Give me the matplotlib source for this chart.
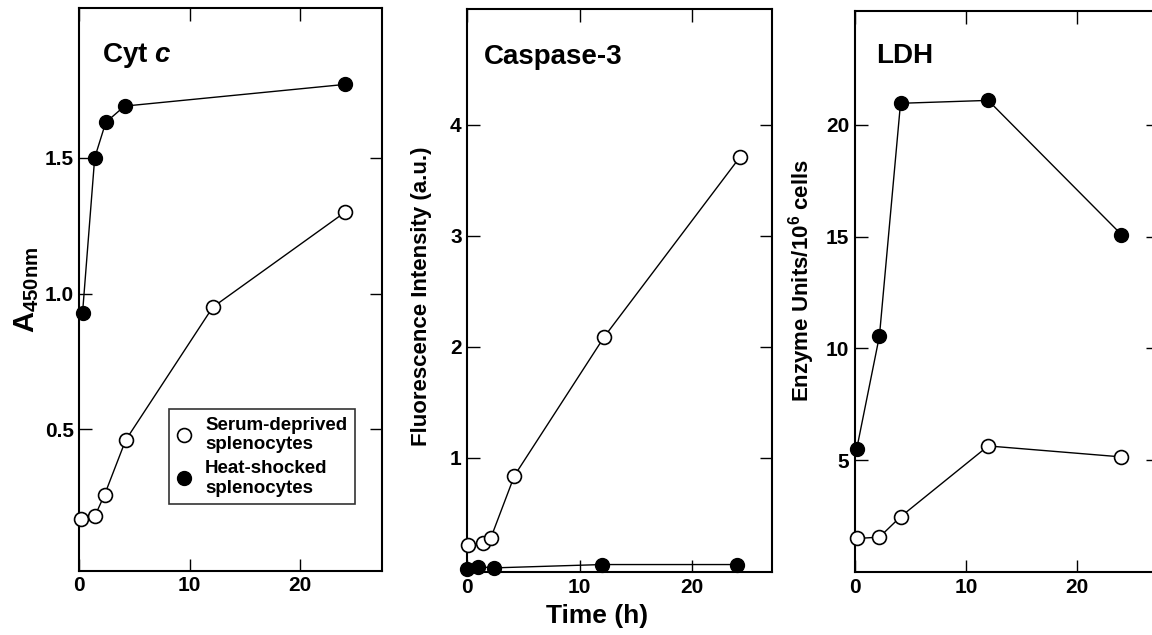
import matplotlib.pyplot as plt

plt.rcParams['font.family'] = ['Liberation Sans', 'DejaVu Sans']
plt.rcParams['font.weight'] = 'bold'
plt.rcParams['axes.labelweight'] = 'bold'
plt.rcParams['mathtext.fontset'] = 'custom'
plt.rcParams['mathtext.rm'] = 'Liberation Sans:bold'
plt.rcParams['mathtext.bf'] = 'Liberation Sans:bold'
plt.rcParams['mathtext.it'] = 'Liberation Sans:bold:italic'
plt.rcParams['mathtext.default'] = 'bf'

# Cyt c panel
cyt_t_serum = [0.2, 1.4, 2.3, 4.2, 12.1, 24.1]
cyt_serum = [0.17, 0.18, 0.26, 0.46, 0.95, 1.30]
cyt_t_heat = [0.3, 1.4, 2.4, 4.1, 24.1]
cyt_heat = [0.93, 1.50, 1.63, 1.69, 1.77]

# Caspase-3 panel
cas_t_serum = [0.1, 1.4, 2.1, 4.2, 12.2, 24.3]
cas_serum = [0.22, 0.23, 0.28, 0.84, 2.09, 3.71]
cas_t_heat = [0.0, 1.0, 2.4, 12.0, 24.0]
cas_heat = [0.0, 0.02, 0.01, 0.04, 0.04]

# LDH panel
ldh_t = [0.15, 2.2, 4.1, 12.0, 24.0]
ldh_serum = [1.5, 1.56, 2.47, 5.64, 5.15]
ldh_heat = [5.5, 10.56, 20.97, 21.1, 15.1]

labels = ["Serum-deprived\nsplenocytes", "Heat-shocked\nsplenocytes"]

fig = plt.figure(figsize=(11.52, 6.35), dpi=100)
ax1 = fig.add_axes([0.0688, 0.1013, 0.2625, 0.8856])
ax2 = fig.add_axes([0.4056, 0.0987, 0.2642, 0.8870])
ax3 = fig.add_axes([0.7422, 0.0992, 0.2630, 0.8835])


def draw(ax, ts, ys, th, yh):
    ax.plot(ts, ys, color='black', lw=1.0, marker='o', ms=10,
            mfc='white', mec='black', mew=1.2, label=labels[0], zorder=3,
            clip_on=False)
    ax.plot(th, yh, color='black', lw=1.0, marker='o', ms=10,
            mfc='black', mec='black', label=labels[1], zorder=3,
            clip_on=False)


def style(ax, yticks):
    ax.set_xticks([0, 10, 20])
    ax.set_yticks(yticks)
    ax.tick_params(direction='in', length=9, width=1.0, labelsize=15,
                   top=True, right=True, pad=4)
    for s in ax.spines.values():
        s.set_linewidth(1.5)


draw(ax1, cyt_t_serum, cyt_serum, cyt_t_heat, cyt_heat)
ax1.set_xlim(0, 27.4)
ax1.set_ylim(-0.02, 2.05)
style(ax1, [0.5, 1.0, 1.5])
ax1.set_yticklabels(['0.5', '1.0', '1.5'])
ax1.set_ylabel('A$_{450nm}$', fontsize=21, va='center')
ax1.yaxis.set_label_coords(-0.174, 0.5)
ax1.text(0.074, 0.905, 'Cyt $\\mathit{c}$', transform=ax1.transAxes,
         fontsize=20, va='baseline')
leg = ax1.legend(loc='upper left', bbox_to_anchor=(0.298, 0.287),
                 fontsize=13.5, frameon=True, fancybox=False, borderaxespad=0,
                 handlelength=0.8, handletextpad=0.7, borderpad=0.4,
                 labelspacing=0.35, markerscale=1.0)
leg.get_frame().set_edgecolor('black')
leg.get_frame().set_linewidth(1.2)
for h in leg.get_lines():
    h.set_linestyle('None')

draw(ax2, cas_t_serum, cas_serum, cas_t_heat, cas_heat)
ax2.set_xlim(0, 27.1)
ax2.set_ylim(-0.03, 5.04)
style(ax2, [1, 2, 3, 4])
ax2.set_ylabel('Fluorescence Intensity (a.u.)', fontsize=16, va='center')
ax2.yaxis.set_label_coords(-0.150, 0.49)
ax2.set_xlabel('Time (h)', fontsize=19, va='top')
ax2.xaxis.set_label_coords(0.426, -0.057)
ax2.text(0.055, 0.902, 'Caspase-3', transform=ax2.transAxes,
         fontsize=20, va='baseline')

draw(ax3, ldh_t, ldh_serum, ldh_t, ldh_heat)
ax3.set_xlim(0, 27.3)
ax3.set_ylim(0, 25.1)
style(ax3, [5, 10, 15, 20])
ax3.set_ylabel('Enzyme Units/10$^6$ cells', fontsize=16, va='center')
ax3.yaxis.set_label_coords(-0.176, 0.52)
ax3.text(0.069, 0.908, 'LDH', transform=ax3.transAxes,
         fontsize=20, va='baseline')

fig.savefig('out.png', dpi=100)
